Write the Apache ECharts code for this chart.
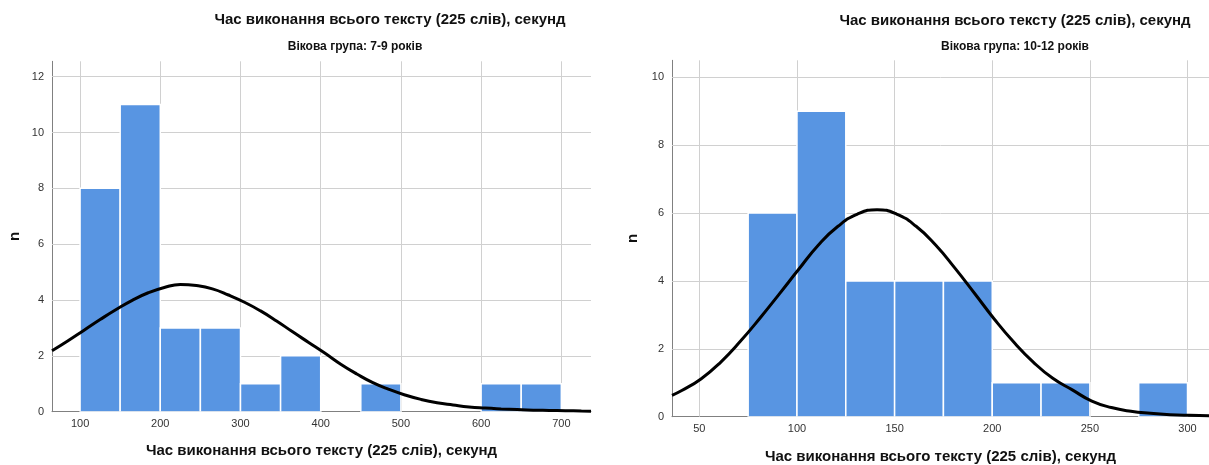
<!DOCTYPE html>
<html>
<head>
<meta charset="utf-8">
<script src="https://cdn.jsdelivr.net/npm/echarts@6/dist/echarts.min.js"></script>
<style>
  html, body { margin: 0; padding: 0; background: #fff; }
  #show { width: 1209px; height: 465px; }
</style>
</head>
<body>
<div id="show"></div>
<script>
// тексти
const titleText = 'Час виконання всього тексту (225 слів), секунд';
const groupLeft = 'Вікова група: 7-9 років';
const groupRight = 'Вікова група: 10-12 років';

// 7-9 років: гістограма (інтервали по 50 с)
const leftBinStart = [100, 150, 200, 250, 300, 350, 450, 600, 650];
const leftBinEnd   = [150, 200, 250, 300, 350, 400, 500, 650, 700];
const leftCounts   = [8, 11, 3, 3, 1, 2, 1, 1, 1];
// нормальна крива
const leftCurveX = [65, 85, 105, 125, 145, 165, 185, 205, 225, 245, 265, 285, 305, 325, 345, 365, 385, 405, 425, 445, 465, 485, 505, 525, 545, 565, 585, 605, 625, 645, 665, 685, 705, 725, 737];
const leftCurveY = [2.18, 2.54, 2.92, 3.30, 3.66, 3.99, 4.26, 4.45, 4.56, 4.52, 4.40, 4.18, 3.92, 3.61, 3.25, 2.86, 2.48, 2.10, 1.70, 1.35, 1.04, 0.80, 0.60, 0.44, 0.32, 0.24, 0.17, 0.13, 0.10, 0.075, 0.055, 0.045, 0.035, 0.025, 0.02];
const leftXTicks = [100, 200, 300, 400, 500, 600, 700];
const leftYTicks = [0, 2, 4, 6, 8, 10, 12];

// 10-12 років: гістограма (інтервали по 25 с)
const rightBinStart = [75, 100, 125, 150, 175, 200, 225, 275];
const rightBinEnd   = [100, 125, 150, 175, 200, 225, 250, 300];
const rightCounts   = [6, 9, 4, 4, 4, 1, 1, 1];
const rightCurveX = [36, 41, 51, 61, 71, 81, 91, 101, 111, 121, 131, 141, 151, 161, 171, 181, 191, 201, 211, 221, 231, 241, 251, 261, 271, 281, 291, 301, 311];
const rightCurveY = [0.63, 0.77, 1.12, 1.61, 2.22, 2.90, 3.62, 4.35, 5.06, 5.61, 5.97, 6.10, 5.97, 5.61, 5.06, 4.37, 3.63, 2.88, 2.20, 1.61, 1.13, 0.79, 0.46, 0.27, 0.16, 0.10, 0.06, 0.04, 0.03];
const rightXTicks = [50, 100, 150, 200, 250, 300];
const rightYTicks = [0, 2, 4, 6, 8, 10];

const FONT = "'Liberation Sans', Arial, sans-serif";
const BAR_COLOR = '#5895e2';
const GRID_COLOR = '#d0d0d0';
const AXIS_COLOR = '#808080';

function histRender(params, api) {
  var p0 = api.coord([api.value(0), api.value(2)]);
  var p1 = api.coord([api.value(1), 0]);
  return {
    type: 'rect',
    shape: { x: p0[0], y: p0[1], width: p1[0] - p0[0], height: p1[1] - p0[1] },
    style: { fill: BAR_COLOR, stroke: '#fff', lineWidth: 1.5 }
  };
}

function zip(a, b, c) {
  return a.map((v, i) => c ? [v, b[i], c[i]] : [v, b[i]]);
}

function xAxisCfg(idx, min, max, ticks, gap) {
  return {
    type: 'value', gridIndex: idx, min: min, max: max,
    name: titleText, nameLocation: 'middle', nameGap: gap,
    nameTextStyle: { fontFamily: FONT, fontSize: 15, fontWeight: 'bold', color: '#111' },
    axisLine: { show: true, onZero: false, lineStyle: { color: AXIS_COLOR, width: 1 } },
    axisTick: { show: false },
    splitLine: { show: false },
    axisLabel: { customValues: ticks, fontFamily: FONT, fontSize: 11, color: '#333', margin: 7 }
  };
}

function yAxisCfg(idx, max, ticks, gap) {
  return {
    type: 'value', gridIndex: idx, min: 0, max: max,
    name: 'n', nameLocation: 'middle', nameGap: gap, nameRotate: 90,
    nameTextStyle: { fontFamily: FONT, fontSize: 15, fontWeight: 'bold', color: '#111' },
    axisLine: { show: true, lineStyle: { color: AXIS_COLOR, width: 1 } },
    axisTick: { show: false },
    splitLine: { show: false },
    axisLabel: { customValues: ticks, fontFamily: FONT, fontSize: 11, color: '#333', margin: 8 }
  };
}

// сітка під стовпчиками
function gridLines(idx, xt, yt) {
  return {
    type: 'line', xAxisIndex: idx, yAxisIndex: idx, data: [], z: 1,
    silent: true,
    markLine: {
      z: 1, silent: true, symbol: 'none', label: { show: false },
      lineStyle: { color: GRID_COLOR, width: 1, type: 'solid' },
      emphasis: { disabled: true },
      data: xt.map(v => ({ xAxis: v })).concat(yt.filter(v => v > 0).map(v => ({ yAxis: v })))
    }
  };
}

function label(text, x, y, size, narrow) {
  return {
    type: 'text', x: x, y: y, silent: true,
    style: {
      text: text, align: 'center', verticalAlign: 'middle',
      fontFamily: narrow ? "'Liberation Sans Narrow', " + FONT : FONT,
      fontSize: size, fontWeight: 'bold', fill: '#111'
    }
  };
}

let myChart = echarts.init(document.getElementById('show'));
myChart.setOption({
  animation: false,
  graphic: [
    label(titleText, 390, 20, 15),
    label(groupLeft, 355, 47, 12, true),
    label(titleText, 1015, 21, 15),
    label(groupRight, 1015, 47, 12, true)
  ],
  grid: [
    { left: 52, width: 539, top: 61.3, bottom: 53.3, outerBoundsMode: 'none' },
    { left: 672, width: 537, top: 60.3, bottom: 48.3, outerBoundsMode: 'none' }
  ],
  xAxis: [
    xAxisCfg(0, 65, 737, leftXTicks, 32),
    xAxisCfg(1, 36, 311, rightXTicks, 33)
  ],
  yAxis: [
    yAxisCfg(0, 12.55, leftYTicks, 30),
    yAxisCfg(1, 10.5, rightYTicks, 32)
  ],
  series: [
    gridLines(0, leftXTicks, leftYTicks),
    gridLines(1, rightXTicks, rightYTicks),
    { type: 'custom', xAxisIndex: 0, yAxisIndex: 0, z: 2, renderItem: histRender,
      data: zip(leftBinStart, leftBinEnd, leftCounts), clip: true },
    { type: 'custom', xAxisIndex: 1, yAxisIndex: 1, z: 2, renderItem: histRender,
      data: zip(rightBinStart, rightBinEnd, rightCounts), clip: true },
    { type: 'line', xAxisIndex: 0, yAxisIndex: 0, z: 3, smooth: true, symbol: 'none',
      lineStyle: { color: '#000', width: 3 }, data: zip(leftCurveX, leftCurveY) },
    { type: 'line', xAxisIndex: 1, yAxisIndex: 1, z: 3, smooth: true, symbol: 'none',
      lineStyle: { color: '#000', width: 3 }, data: zip(rightCurveX, rightCurveY) }
  ]
});
</script>
</body>
</html>
